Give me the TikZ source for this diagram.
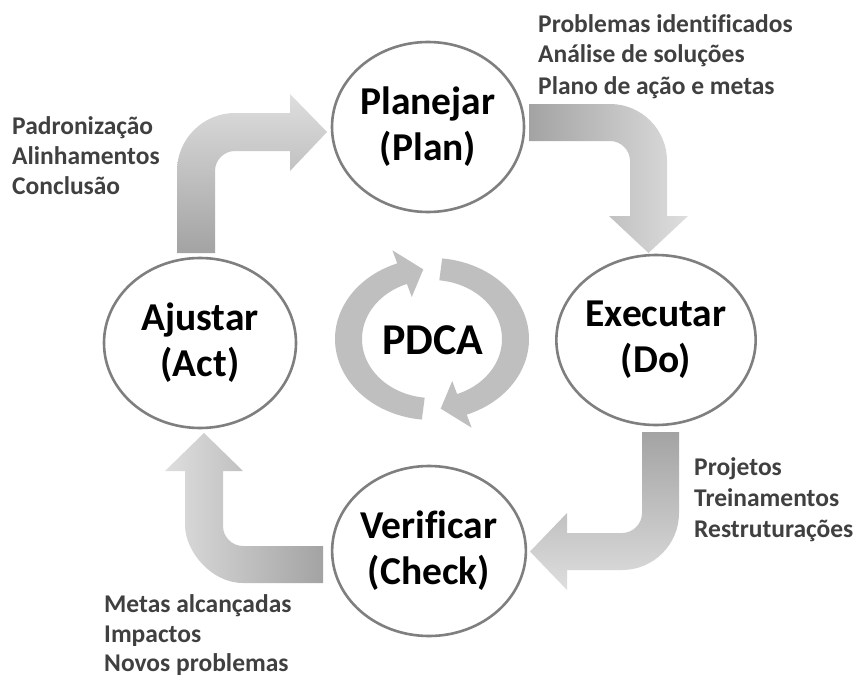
\documentclass[tikz,border=0pt]{standalone}
\usepackage{fontspec}
\setmainfont[Ligatures=NoCommon]{Carlito}
\usetikzlibrary{shapes.geometric}
\definecolor{ringgray}{HTML}{BFBFBF}
\definecolor{edgegray}{HTML}{7F7F7F}
\definecolor{txtgray}{HTML}{404040}
\definecolor{arrdark}{HTML}{A3A3A3}
\definecolor{arrlight}{HTML}{DEDEDE}
\begin{document}
\begin{tikzpicture}[x=1pt,y=-1pt,
  stage/.style={ellipse, draw=edgegray, line width=2.6pt, fill=white,
    minimum width=192pt, minimum height=170pt, inner sep=0pt, align=center,
    font=\fontsize{39.5}{46}\selectfont\bfseries},
  note/.style={anchor=base west, inner sep=0pt, text=txtgray,
    font=\fontsize{25.5}{31}\selectfont\bfseries},
  bigtitle/.style={inner sep=0pt, font=\fontsize{44}{50}\selectfont\bfseries},
  ring/.style={fill=ringgray}
]
\fill[white] (0,0) rectangle (859,677);
\useasboundingbox (0,0) rectangle (859,677);

% stages
\node[stage] (plan)  at (428,127) {Planejar\\(Plan)};
\node[stage] (do)    at (656,340) {Executar\\(Do)};
\node[stage] (check) at (429,551) {Verificar\\(Check)};
\node[stage] (act)   at (200,343) {Ajustar\\(Act)};

% bent arrows
% Plan -> Do
\shade[left color=arrdark, right color=arrlight]
  (529,104) -- (610,104) .. controls (641.5,104) and (667,129.5) .. (667,161)
  -- (667,216) -- (688,216) -- (648.5,253) -- (609,216) -- (630,216)
  -- (630,161) .. controls (630,150) and (621,141) .. (610,141) -- (529,141) -- cycle;
% Do -> Check
\shade[top color=arrdark, bottom color=arrlight]
  (642,432) -- (679,432) -- (679,513) .. controls (679,544.5) and (653.5,570) .. (622,570)
  -- (567,570) -- (567,590) -- (530,551.5) -- (567,513) -- (567,533)
  -- (622,533) .. controls (633,533) and (642,524) .. (642,513) -- cycle;
% Check -> Act
\shade[left color=arrlight, right color=arrdark]
  (323,546) -- (323,583) -- (243,583) .. controls (211,583) and (185,551) .. (185,525)
  -- (185,471) -- (165,471) -- (204,433) -- (243,471) -- (223,471)
  -- (223,526) .. controls (223,537) and (232,546) .. (243,546) -- cycle;
% Act -> Plan
\shade[top color=arrlight, bottom color=arrdark]
  (177,253) -- (177,171) .. controls (177,139) and (203,113) .. (235,113)
  -- (290,113) -- (290,94) -- (327,132) -- (290,171) -- (290,151)
  -- (235,151) .. controls (224,151) and (215,160) .. (215,171) -- (215,253) -- cycle;

% central circular arrows
\fill[ring] plot[domain=96:249,samples=60] ({432+97*cos(\x)},{339+81*sin(\x)})
  -- ({432+110.5*cos(249)},{339+95*sin(249)})
  -- ({432+83.5*cos(264)},{339+70*sin(264)})
  -- ({432+56.5*cos(249)},{339+45*sin(249)})
  -- plot[domain=249:96,samples=60] ({432+70*cos(\x)},{339+59*sin(\x)}) -- cycle;
\fill[ring] plot[domain=276:429,samples=60] ({432+97*cos(\x)},{339+81*sin(\x)})
  -- ({432+110.5*cos(429)},{339+95*sin(429)})
  -- ({432+83.5*cos(444)},{339+70*sin(444)})
  -- ({432+56.5*cos(429)},{339+45*sin(429)})
  -- plot[domain=429:276,samples=60] ({432+70*cos(\x)},{339+59*sin(\x)}) -- cycle;
\node[bigtitle] (pdca) at (433,340) {PDCA};

% notes
\node[note] (t1) at (538,33) {Problemas identificados};
\node[note] (t2) at (538,63) {Análise de soluções};
\node[note] (t3) at (538,94) {Plano de ação e metas};
\node[note] (l1) at (12,134) {Padronização};
\node[note] (l2) at (12,164.5) {Alinhamentos};
\node[note] (l3) at (12,194.5) {Conclusão};
\node[note] (r1) at (694,475) {Projetos};
\node[note] (r2) at (694,506) {Treinamentos};
\node[note] (r3) at (694,537) {Restruturações};
\node[note] (b1) at (104,612) {Metas alcançadas};
\node[note] (b2) at (104,642) {Impactos};
\node[note] (b3) at (104,671.5) {Novos problemas};
\end{tikzpicture}
\end{document}
